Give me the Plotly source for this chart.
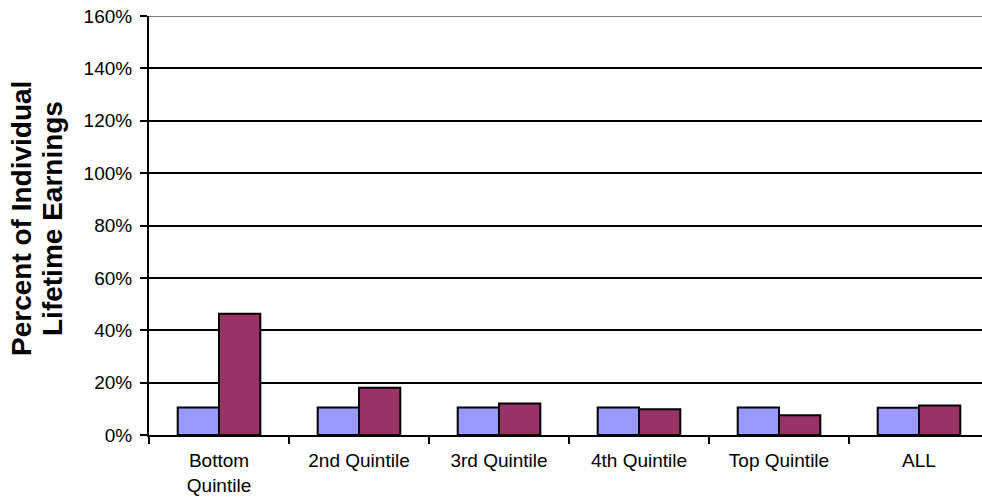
import plotly.graph_objects as go

categories = ["Bottom<br>Quintile", "2nd Quintile", "3rd Quintile", "4th Quintile", "Top Quintile", "ALL"]
series_a = [0.105, 0.105, 0.105, 0.105, 0.105, 0.104]
series_b = [0.463, 0.180, 0.120, 0.098, 0.075, 0.113]
y_ticks = [0, 0.2, 0.4, 0.6, 0.8, 1.0, 1.2, 1.4, 1.6]
y_tick_text = ["0%", "20%", "40%", "60%", "80%", "100%", "120%", "140%", "160%"]

FONT = "Liberation Sans, Arial, sans-serif"
PLOT_W = 982 - 149
PLOT_H = 504 - 16 - 69

fig = go.Figure()
fig.add_trace(go.Bar(x=categories, y=series_a, marker=dict(color="#9999FF", line=dict(color="black", width=2)), showlegend=False))
fig.add_trace(go.Bar(x=categories, y=series_b, marker=dict(color="#993366", line=dict(color="black", width=2)), showlegend=False))

fig.update_layout(
    width=982, height=504,
    margin=dict(l=149, r=0, t=16, b=69),
    paper_bgcolor="white", plot_bgcolor="white",
    barmode="group", bargap=0.41, bargroupgap=0,
    font=dict(family=FONT, size=19, color="black"),
)
fig.update_xaxes(
    range=[-0.5, 5.45], showline=True, linecolor="black", linewidth=2,
    ticks="outside", tickson="boundaries", ticklen=7, tickwidth=2, tickcolor="black",
    showgrid=False, tickfont=dict(size=19), ticklabelstandoff=7,
)
fig.update_yaxes(
    range=[0, 1.6], tickvals=y_ticks, ticktext=y_tick_text,
    showline=True, linecolor="black", linewidth=2,
    ticks="outside", ticklen=7, tickwidth=2, tickcolor="black",
    showgrid=True, gridcolor="black", gridwidth=2, zeroline=False,
    tickfont=dict(size=19), ticklabelstandoff=4,
)
# top boundary line drawn lighter
fig.add_shape(type="line", xref="paper", yref="y", x0=0, x1=1, y0=1.6, y1=1.6,
              line=dict(color="#808080", width=2), layer="above")

title_y = (435 - 219) / PLOT_H
fig.add_annotation(text="<b>Percent of Individual</b>", xref="paper", yref="paper",
                   x=(22 - 149) / PLOT_W, y=title_y, xanchor="center", yanchor="middle",
                   textangle=-90, showarrow=False, font=dict(size=28, family=FONT))
fig.add_annotation(text="<b>Lifetime Earnings</b>", xref="paper", yref="paper",
                   x=(53 - 149) / PLOT_W, y=title_y, xanchor="center", yanchor="middle",
                   textangle=-90, showarrow=False, font=dict(size=28, family=FONT))

fig.write_html("out.html")
